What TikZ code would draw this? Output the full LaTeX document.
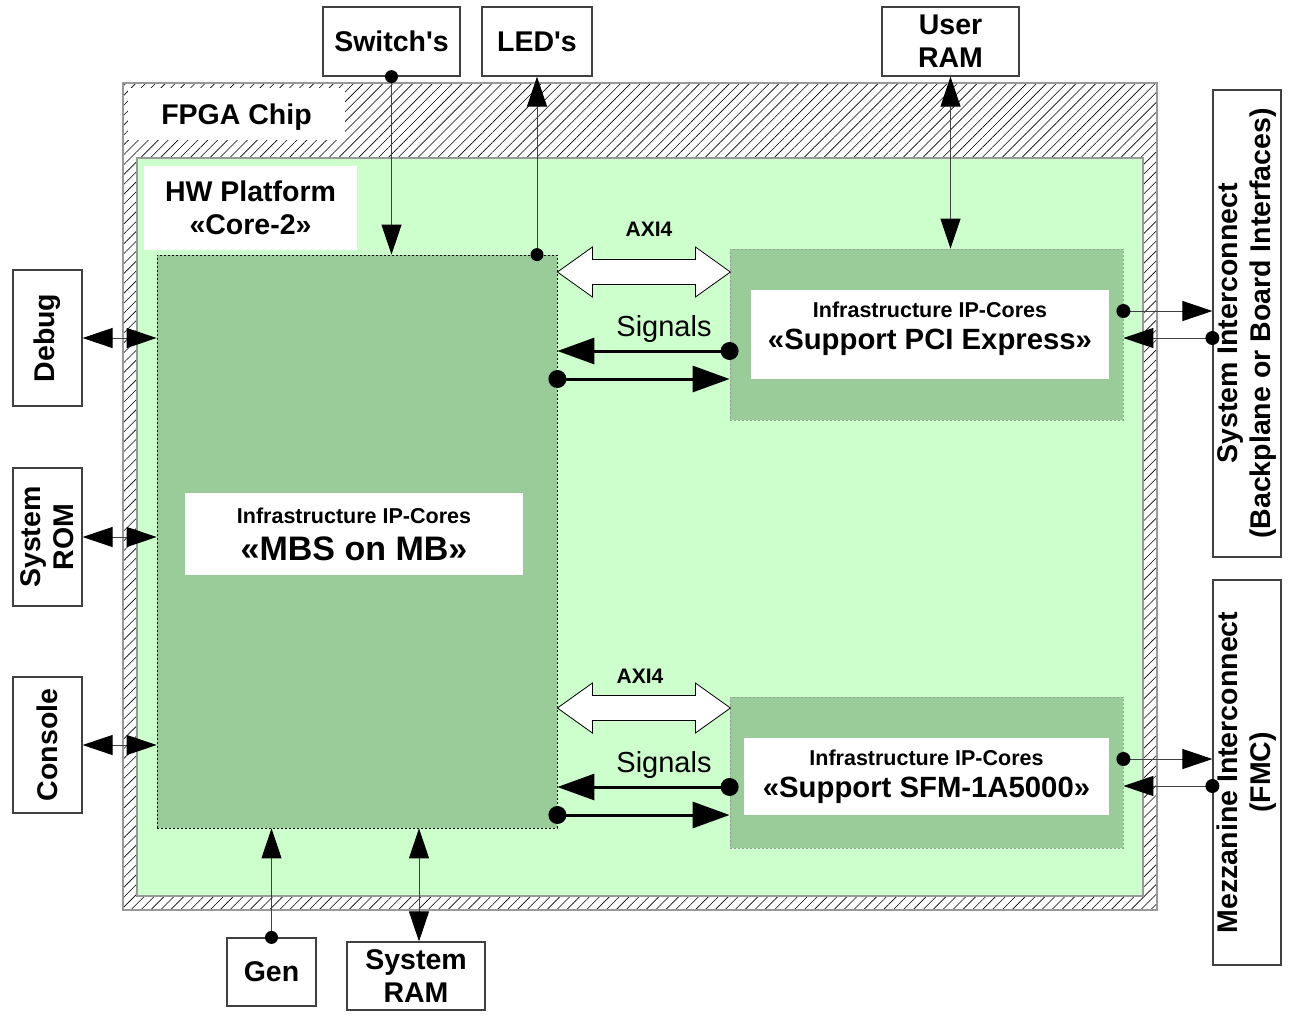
\documentclass[tikz,border=0pt]{standalone}
\usepackage{fontspec}
\setmainfont{Liberation Sans}[Ligatures=TeXOff]
\usetikzlibrary{arrows.meta,patterns.meta}
\definecolor{lightgreen}{HTML}{CCFFCC}
\definecolor{coregreen}{HTML}{99CC99}
\definecolor{rimgrey}{HTML}{999999}
\definecolor{wiregrey}{HTML}{404040}
\newcommand\lblfont{\fontsize{28.5}{33}\selectfont\bfseries}
\newcommand\ipfont{\fontsize{21.5}{26}\selectfont\bfseries}
\newcommand\ipnamefont{\fontsize{29.3}{33}\selectfont\bfseries}
\tikzset{
  extbox/.style={draw=wiregrey,line width=1.2pt,fill=white,align=center,inner sep=0pt,font=\lblfont},
  whitelbl/.style={fill=white,align=center,inner sep=0pt},
  ipblock/.style={fill=coregreen,draw=rimgrey,dash pattern=on 2pt off 2pt,line width=0.8pt,inner sep=0pt},
  wire/.style={draw=wiregrey,line width=1pt},
  onearrow/.style={wire,-{Triangle[length=30pt,width=20pt,color=black]}},
  twoarrow/.style={wire,{Triangle[length=30pt,width=20pt,color=black]}-{Triangle[length=30pt,width=20pt,color=black]}},
  sigarrow/.style={draw=black,line width=3pt,-{Triangle[length=37pt,width=26pt]}},
  axi/.style={draw=black,line width=0.8pt,fill=white},
  smalldot/.style={fill=black},
}
\begin{document}
\begin{tikzpicture}[x=1pt,y=-1pt]
  \useasboundingbox (0,0) rectangle (1295,1021);
  % chip and platform
  \fill[white] (123,83) rectangle (1157,910);
  \draw[draw=rimgrey,line width=1.5pt,pattern={Lines[angle=45,distance=7pt,line width=0.6pt]}] (123,83) rectangle (1157,910);
  \node[whitelbl,minimum width=217pt,minimum height=52pt] (chiplbl) at (236.5,114) {};
  \node[font=\lblfont] (chiptxt) at (236.5,117) {FPGA Chip};
  \draw[draw=rimgrey,line width=1.2pt,fill=lightgreen] (137,158) rectangle (1143,896);
  \node[whitelbl,minimum width=213pt,minimum height=84pt,font=\lblfont] (hwlbl) at (250.5,208) {HW Platform\\«Core-2»};

  % ip blocks
  \node[ipblock,draw=black,minimum width=400pt,minimum height=573pt] (mbs) at (357,541.5) {};
  \node[whitelbl,minimum width=338pt,minimum height=82pt,font=\fontsize{28}{37}\selectfont] (mbslbl) at (354,534)
    {{\ipfont Infrastructure IP-Cores}\\{\fontsize{34}{37}\selectfont\bfseries «MBS on MB»}};
  \node[ipblock,minimum width=393pt,minimum height=171pt] (pci) at (926.5,334.5) {};
  \node[whitelbl,minimum width=358pt,minimum height=89pt] (pcilbl) at (930,334.5) {};
  \node[align=center,inner sep=0pt,font=\fontsize{28}{32}\selectfont] (pcitxt) at (930,329)
    {{\ipfont Infrastructure IP-Cores}\\{\ipnamefont «Support PCI Express»}};
  \node[ipblock,minimum width=393pt,minimum height=151pt] (sfm) at (926.5,772.5) {};
  \node[whitelbl,minimum width=365pt,minimum height=77pt] (sfmlbl) at (926.5,776.5) {};
  \node[align=center,inner sep=0pt,font=\fontsize{28}{32}\selectfont] (sfmtxt) at (926.5,777)
    {{\ipfont Infrastructure IP-Cores}\\{\ipnamefont «Support SFM-1A5000»}};

  % outside boxes
  \node[extbox,minimum width=137pt,minimum height=69pt] (switches) at (391.5,41.5) {Switch\textquotesingle s};
  \node[extbox,minimum width=110pt,minimum height=69pt] (leds) at (537,41.5) {LED\textquotesingle s};
  \node[extbox,minimum width=137pt,minimum height=69pt] (userram) at (950.5,41.5) {User\\RAM};
  \node[extbox,rotate=90,minimum width=136pt,minimum height=69pt] (debug) at (47.5,338) {Debug};
  \node[extbox,rotate=90,minimum width=138pt,minimum height=69pt] (sysrom) at (47.5,537) {System\\ROM};
  \node[extbox,rotate=90,minimum width=136pt,minimum height=69pt] (console) at (47.5,745) {Console};
  \node[extbox,minimum width=89pt,minimum height=68pt] (gen) at (271.5,972) {Gen};
  \node[extbox,minimum width=138pt,minimum height=68pt] (sysram) at (416,976) {System\\RAM};
  \node[extbox,rotate=90,minimum width=467pt,minimum height=68pt] (sysic) at (1247,323.5) {System Interconnect\\(Backplane or Board Interfaces)};
  \node[extbox,rotate=90,minimum width=385pt,minimum height=68pt] (mezz) at (1247,772.5) {Mezzanine Interconnect\\(FMC)};

  % thin connectors
  \draw[onearrow] (switches.south) -- (switches.south |- mbs.north);
  \fill[smalldot] (switches.south) circle[radius=6.5pt];
  \draw[onearrow] (leds.south |- mbs.north) -- (leds.south);
  \fill[smalldot] (leds.south |- mbs.north) circle[radius=6.5pt];
  \draw[twoarrow] (userram.south) -- (userram.south |- pci.north);
  \draw[twoarrow] (debug.south) -- (debug.south -| mbs.west);
  \draw[twoarrow] (sysrom.south) -- (sysrom.south -| mbs.west);
  \draw[twoarrow] (console.south) -- (console.south -| mbs.west);
  \draw[onearrow] (gen.north) -- (gen.north |- mbs.south);
  \fill[smalldot] (gen.north) circle[radius=6.5pt];
  \draw[twoarrow] ([xshift=3pt]sysram.north) -- ([xshift=3pt]sysram.north |- mbs.south);

  % right side links
  \coordinate (pciout) at ([yshift=23.5pt]pci.east);
  \coordinate (pciin) at ([yshift=-3.5pt]pci.east);
  \coordinate (sfmout) at ([yshift=13.5pt]sfm.east);
  \coordinate (sfmin) at ([yshift=-13.5pt]sfm.east);
  \draw[onearrow] (pciout) -- (pciout -| sysic.north);
  \fill[smalldot] (pciout) circle[radius=7pt];
  \draw[onearrow] (pciin -| sysic.north) -- (pciin);
  \fill[smalldot] (pciin -| sysic.north) circle[radius=7pt];
  \draw[onearrow] (sfmout) -- (sfmout -| mezz.north);
  \fill[smalldot] (sfmout) circle[radius=7pt];
  \draw[onearrow] (sfmin -| mezz.north) -- (sfmin);
  \fill[smalldot] (sfmin -| mezz.north) circle[radius=7pt];

  % axi4 buses
  \coordinate (axitop) at (mbs.east |- 0,272);
  \coordinate (axibot) at (mbs.east |- 0,708);
  \foreach \bus in {axitop,axibot}
    \draw[axi] (\bus) -- ++(35,-25) -- ++(0,12.5) -- ++(103,0) -- ++(0,-12.5) -- ++(35,25)
      -- ++(-35,25) -- ++(0,-12.5) -- ++(-103,0) -- ++(0,12.5) -- cycle;
  \node[font=\fontsize{21}{24}\selectfont\bfseries] (axitoplbl) at (649,229) {AXI4};
  \node[font=\fontsize{21}{24}\selectfont\bfseries] (axibotlbl) at (640,676) {AXI4};

  % signals
  \coordinate (pcisigin) at ([yshift=-16.5pt]pci.west);
  \coordinate (pcisigout) at ([yshift=-44.5pt]pci.west);
  \coordinate (sfmsigin) at ([yshift=-14.5pt]sfm.west);
  \coordinate (sfmsigout) at ([yshift=-42.5pt]sfm.west);
  \node[font=\fontsize{29}{32}\selectfont] (pcisiglbl) at (664,329) {Signals};
  \node[font=\fontsize{29}{32}\selectfont] (sfmsiglbl) at (664,765) {Signals};
  \draw[sigarrow] (pcisigin) -- (pcisigin -| mbs.east);
  \fill (pcisigin) circle[radius=9pt];
  \draw[sigarrow] (pcisigout -| mbs.east) -- (pcisigout);
  \fill (pcisigout -| mbs.east) circle[radius=9pt];
  \draw[sigarrow] (sfmsigin) -- (sfmsigin -| mbs.east);
  \fill (sfmsigin) circle[radius=9pt];
  \draw[sigarrow] (sfmsigout -| mbs.east) -- (sfmsigout);
  \fill (sfmsigout -| mbs.east) circle[radius=9pt];
\end{tikzpicture}
\end{document}
